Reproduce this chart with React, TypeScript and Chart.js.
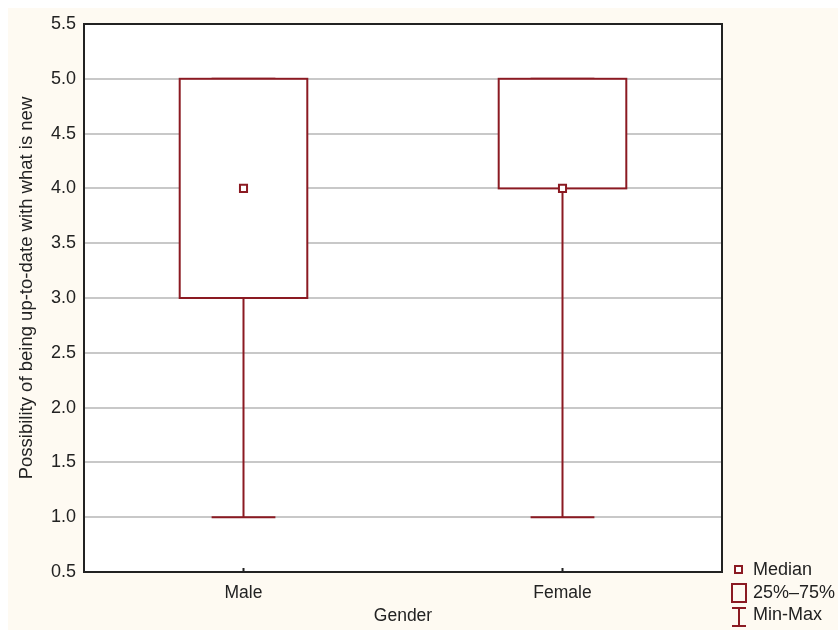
import React, { useEffect, useRef } from "react";
import { Chart, registerables } from "chart.js";

Chart.register(...registerables);

const categories = ["Male", "Female"];
const mins = [1.0, 1.0];
const q1s = [3.0, 4.0];
const medians = [4.0, 4.0];
const q3s = [5.0, 5.0];
const maxs = [5.0, 5.0];
const yTicks = [0.5, 1.0, 1.5, 2.0, 2.5, 3.0, 3.5, 4.0, 4.5, 5.0, 5.5];
const legendLabels = ["Median", "25%\u201375%", "Min-Max"];
const yTitle = "Possibility of being up-to-date with what is new";
const xTitle = "Gender";

const RED = "#8b1a22";
const FONT = "'Liberation Sans', Arial, sans-serif";

const whiskerPlugin = {
  id: "whiskers",
  beforeDraw(chart: any) {
    const { ctx, chartArea } = chart;
    ctx.save();
    ctx.fillStyle = "#ffffff";
    ctx.fillRect(chartArea.left, chartArea.top, chartArea.right - chartArea.left, chartArea.bottom - chartArea.top);
    ctx.restore();
  },
  beforeDatasetsDraw(chart: any) {
    const { ctx, chartArea } = chart;
    const x = chart.scales.x;
    const y = chart.scales.y;
    const catW = (chartArea.right - chartArea.left) / categories.length;
    const capHalf = catW * 0.1;
    ctx.save();
    ctx.strokeStyle = RED;
    ctx.lineWidth = 2;
    categories.forEach((_, i) => {
      const cx = x.getPixelForValue(i);
      const pMin = y.getPixelForValue(mins[i]);
      const pMax = y.getPixelForValue(maxs[i]);
      const pQ1 = y.getPixelForValue(q1s[i]);
      const pQ3 = y.getPixelForValue(q3s[i]);
      ctx.beginPath();
      ctx.moveTo(cx, pMin);
      ctx.lineTo(cx, pQ1);
      ctx.moveTo(cx, pQ3);
      ctx.lineTo(cx, pMax);
      ctx.moveTo(cx - capHalf, pMin);
      ctx.lineTo(cx + capHalf, pMin);
      ctx.moveTo(cx - capHalf, pMax);
      ctx.lineTo(cx + capHalf, pMax);
      ctx.stroke();
    });
    ctx.restore();
  },
  afterDatasetDraw(chart: any, args: any) {
    if (args.index !== 0) return;
    const { ctx } = chart;
    ctx.save();
    ctx.strokeStyle = RED;
    ctx.lineWidth = 2;
    args.meta.data.forEach((bar: any) => {
      const p = bar.getProps(["x", "y", "base", "width"], true);
      const top = Math.min(p.y, p.base);
      const h = Math.abs(p.base - p.y);
      ctx.strokeRect(p.x - p.width / 2, top, p.width, h);
    });
    ctx.restore();
  },
  afterDraw(chart: any) {
    const { ctx, chartArea } = chart;
    const x = chart.scales.x;
    ctx.save();
    // frame top and right
    ctx.strokeStyle = "#222";
    ctx.lineWidth = 2;
    ctx.beginPath();
    ctx.moveTo(chartArea.left, chartArea.top);
    ctx.lineTo(chartArea.right, chartArea.top);
    ctx.lineTo(chartArea.right, chartArea.bottom);
    ctx.stroke();
    // small inner x ticks
    categories.forEach((_, i) => {
      const cx = x.getPixelForValue(i);
      ctx.beginPath();
      ctx.moveTo(cx, chartArea.bottom);
      ctx.lineTo(cx, chartArea.bottom - 4);
      ctx.stroke();
    });
    // y title
    ctx.fillStyle = "#222";
    ctx.font = `18.5px ${FONT}`;
    ctx.textAlign = "center";
    ctx.textBaseline = "middle";
    ctx.save();
    ctx.translate(19, (chartArea.top + chartArea.bottom) / 2 - 10);
    ctx.rotate(-Math.PI / 2);
    ctx.fillText(yTitle, 0, 0);
    ctx.restore();
    // legend
    const lx = chartArea.right + 10;
    ctx.strokeStyle = RED;
    ctx.lineWidth = 2;
    ctx.fillStyle = "#fff";
    ctx.fillRect(lx + 3, chartArea.bottom - 6, 7, 7);
    ctx.strokeRect(lx + 3, chartArea.bottom - 6, 7, 7);
    ctx.strokeRect(lx + 0, chartArea.bottom + 12, 14, 18);
    const ix = lx + 7;
    ctx.beginPath();
    ctx.moveTo(ix, chartArea.bottom + 36);
    ctx.lineTo(ix, chartArea.bottom + 54);
    ctx.moveTo(ix - 7, chartArea.bottom + 36);
    ctx.lineTo(ix + 7, chartArea.bottom + 36);
    ctx.moveTo(ix - 7, chartArea.bottom + 54);
    ctx.lineTo(ix + 7, chartArea.bottom + 54);
    ctx.stroke();
    ctx.fillStyle = "#222";
    ctx.font = `18px ${FONT}`;
    ctx.textBaseline = "middle";
    ctx.textAlign = "left";
    ctx.fillText(legendLabels[0], lx + 21, chartArea.bottom - 2);
    ctx.fillText(legendLabels[1], lx + 21, chartArea.bottom + 21);
    ctx.fillText(legendLabels[2], lx + 21, chartArea.bottom + 43);
    ctx.restore();
  },
};

export default function App() {
  const ref = useRef<HTMLCanvasElement>(null);
  useEffect(() => {
    if (!ref.current) return;
    const chart = new Chart(ref.current, {
      type: "bar",
      data: {
        labels: categories,
        datasets: [
          {
            type: "bar",
            label: "25%-75%",
            data: categories.map((_, i) => [q1s[i], q3s[i]]) as any,
            backgroundColor: "#ffffff",
            borderWidth: 0,
            barPercentage: 0.4,
            categoryPercentage: 1.0,
            order: 2,
          },
          {
            type: "line",
            label: "Median",
            data: medians,
            showLine: false,
            pointStyle: "rect",
            pointRadius: 5,
            pointBorderWidth: 2,
            pointBackgroundColor: "#ffffff",
            pointBorderColor: RED,
            borderColor: RED,
            order: 1,
          } as any,
        ],
      },
      options: {
        animation: false,
        responsive: true,
        maintainAspectRatio: false,
        layout: { padding: { left: 0, right: 116, top: 16, bottom: 0 } },
        plugins: { legend: { display: false }, tooltip: { enabled: false } },
        scales: {
          x: {
            type: "category",
            offset: true,
            grid: { display: false, drawTicks: false },
            border: { color: "#222", width: 2 },
            ticks: { color: "#222", font: { family: FONT, size: 17.5 }, padding: 11 },
            title: {
              display: true,
              text: xTitle,
              color: "#222",
              font: { family: FONT, size: 17.5 },
              padding: { top: 0, bottom: 3 },
            },
            afterFit: (s: any) => {
              s.height = 58;
              s.paddingLeft = 0;
              s.paddingRight = 0;
            },
          },
          y: {
            min: 0.5,
            max: 5.5,
            afterBuildTicks: (s: any) => {
              s.ticks = yTicks.map((v) => ({ value: v }));
            },
            grid: { color: "#c8c8c8", lineWidth: 2, drawTicks: false },
            border: { color: "#222", width: 2 },
            ticks: {
              color: "#222",
              font: { family: FONT, size: 18 },
              padding: 8,
              callback: (v: any) => Number(v).toFixed(1),
            },
            title: { display: false },
            afterFit: (s: any) => {
              s.width = 76;
              s.paddingTop = 0;
              s.paddingBottom = 0;
            },
          },
        },
      },
      plugins: [whiskerPlugin],
    });
    return () => chart.destroy();
  }, []);
  return (
    <div
      style={{
        position: "fixed",
        left: 8,
        top: 8,
        width: 830,
        height: 622,
        background: "#fefaf2",
      }}
    >
      <canvas ref={ref} />
    </div>
  );
}
